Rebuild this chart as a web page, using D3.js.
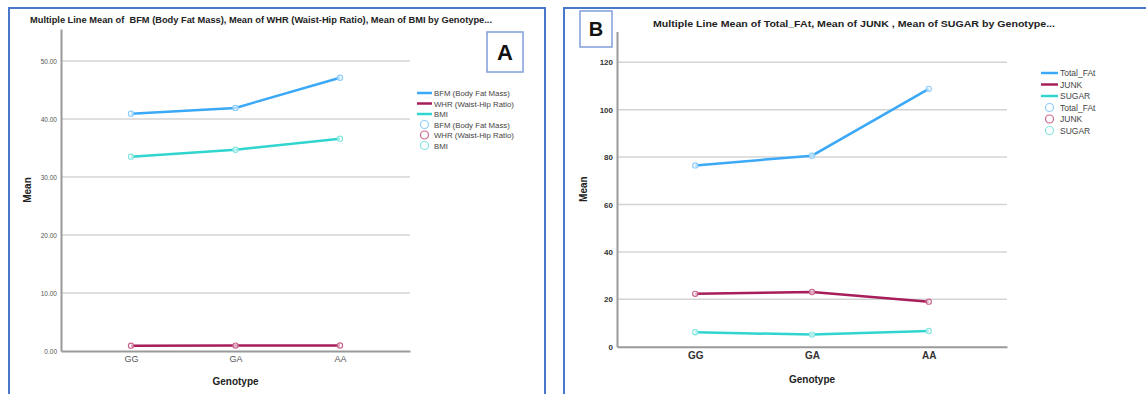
<!DOCTYPE html>
<html>
<head>
<meta charset="utf-8">
<script src="https://cdn.jsdelivr.net/npm/d3@7"></script>
<style>
  html, body { margin: 0; padding: 0; background: #fff; }
  svg { display: block; font-family: "Liberation Sans", Arial, sans-serif; }
</style>
</head>
<body>
<svg id="chart" width="1146" height="394"></svg>
<script>
// categories
const genotypes = ["GG", "GA", "AA"];

// panel A series
const seriesA = ["BFM (Body Fat Mass)", "WHR (Waist-Hip Ratio)", "BMI"];
const bfm = [40.9, 41.9, 47.1];
const whr = [0.92, 0.93, 0.95];
const bmi = [33.5, 34.7, 36.6];
const ticksA = [0, 10, 20, 30, 40, 50];

// panel B series
const seriesB = ["Total_FAt", "JUNK", "SUGAR"];
const totalFat = [76.5, 80.6, 108.8];
const junk = [22.3, 23.1, 19.0];
const sugar = [6.1, 5.1, 6.6];
const ticksB = [0, 20, 40, 60, 80, 100, 120];

const lineColors = ["#3ba9f7", "#a61e5a", "#30d5cf"];
const dotColors = ["#8fcdfb", "#c9668f", "#86e6e2"];

const svg = d3.select("#chart");

function drawPanel(cfg) {
    const g = svg.append("g");

    // frame
    g.append("rect")
        .attr("x", cfg.frame[0]).attr("y", cfg.frame[1])
        .attr("width", cfg.frame[2]).attr("height", cfg.frame[3])
        .attr("fill", "none").attr("stroke", "#4a78c8").attr("stroke-width", 2);

    // title
    g.append("text")
        .attr("x", cfg.titleX).attr("y", cfg.titleY)
        .attr("font-size", cfg.titleSize).attr("font-weight", "bold").attr("fill", "#222")
        .attr("textLength", cfg.titleLen).attr("lengthAdjust", "spacingAndGlyphs")
        .style("white-space", "pre")
        .text(cfg.title);

    // letter box
    g.append("rect")
        .attr("x", cfg.box[0]).attr("y", cfg.box[1])
        .attr("width", cfg.box[2]).attr("height", cfg.box[3])
        .attr("fill", "#fff").attr("stroke", "#7f9fd8").attr("stroke-width", 1.5);
    g.append("text")
        .attr("x", cfg.box[0] + cfg.box[2] / 2).attr("y", cfg.box[1] + cfg.box[3] / 2 + cfg.letterSize * 0.36)
        .attr("text-anchor", "middle")
        .attr("font-size", cfg.letterSize).attr("font-weight", "bold").attr("fill", "#111")
        .text(cfg.letter);

    const x = d3.scalePoint().domain(genotypes).range([cfg.left, cfg.right]).padding(0.67);
    const y = d3.scaleLinear().domain([0, cfg.yMax]).range([cfg.bottom, cfg.top]);

    // gridlines
    g.append("g").selectAll("line").data(cfg.ticks.filter(t => t > 0)).join("line")
        .attr("x1", cfg.left).attr("x2", cfg.right)
        .attr("y1", d => y(d)).attr("y2", d => y(d))
        .attr("stroke", "#d4d4d4").attr("stroke-width", 1.5);

    // y axis
    const yAxis = g.append("g")
        .attr("transform", `translate(${cfg.left},0)`)
        .call(d3.axisLeft(y).tickValues(cfg.ticks).tickSize(0).tickPadding(4).tickFormat(cfg.tickFmt));
    yAxis.select(".domain").attr("stroke", "#9a9a9a").attr("stroke-width", 2);
    yAxis.selectAll("text")
        .attr("font-size", cfg.yTickSize).attr("font-weight", cfg.tickWeight).attr("fill", cfg.tickColor)
        .style("font-family", "'Liberation Sans', Arial, sans-serif");

    // x axis
    const xAxis = g.append("g")
        .attr("transform", `translate(0,${cfg.bottom})`)
        .call(d3.axisBottom(x).tickSize(0).tickPadding(5));
    xAxis.select(".domain").attr("stroke", "#9a9a9a").attr("stroke-width", 2);
    xAxis.selectAll("text")
        .attr("font-size", cfg.xTickSize).attr("font-weight", cfg.tickWeight).attr("fill", cfg.tickColor)
        .style("font-family", "'Liberation Sans', Arial, sans-serif");

    // axis titles
    g.append("text")
        .attr("x", (cfg.left + cfg.right) / 2).attr("y", cfg.xTitleY)
        .attr("text-anchor", "middle").attr("font-size", 10).attr("font-weight", "bold").attr("fill", "#222")
        .text("Genotype");
    g.append("text")
        .attr("transform", `translate(${cfg.yTitleX},${(cfg.top + cfg.bottom) / 2}) rotate(-90)`)
        .attr("text-anchor", "middle").attr("font-size", 10).attr("font-weight", "bold").attr("fill", "#222")
        .text("Mean");

    // lines and markers
    const line = d3.line().x((d, i) => x(genotypes[i])).y(d => y(d));
    cfg.data.forEach((vals, k) => {
        g.append("path")
            .attr("d", line(vals))
            .attr("fill", "none").attr("stroke", lineColors[k]).attr("stroke-width", 2.5);
        g.append("g").selectAll("circle").data(vals).join("circle")
            .attr("cx", (d, i) => x(genotypes[i])).attr("cy", d => y(d)).attr("r", 2.6)
            .attr("fill", "#fff").attr("fill-opacity", 0.6)
            .attr("stroke", dotColors[k]).attr("stroke-width", 1.2);
    });

    // legend
    const lg = g.append("g").attr("transform", `translate(${cfg.legendX},${cfg.legendY})`);
    const step = cfg.legendStep;
    cfg.names.forEach((name, k) => {
        lg.append("line")
            .attr("x1", 0).attr("x2", cfg.legendLineW)
            .attr("y1", k * step).attr("y2", k * step)
            .attr("stroke", lineColors[k]).attr("stroke-width", 2.5);
        lg.append("text")
            .attr("x", cfg.legendLineW + 2).attr("y", k * step + 3)
            .attr("font-size", cfg.legendSize).attr("fill", "#444")
            .text(name);
    });
    cfg.names.forEach((name, k) => {
        const yy = (k + 3) * step;
        lg.append("circle")
            .attr("cx", cfg.legendLineW / 2).attr("cy", yy).attr("r", 4)
            .attr("fill", "none").attr("stroke", dotColors[k]).attr("stroke-width", 1.2);
        lg.append("text")
            .attr("x", cfg.legendLineW + 2).attr("y", yy + 3)
            .attr("font-size", cfg.legendSize).attr("fill", "#444")
            .text(name);
    });
}

drawPanel({
    frame: [9, 8, 536, 400],
    title: "Multiple Line Mean of  BFM (Body Fat Mass), Mean of WHR (Waist-Hip Ratio), Mean of BMI by Genotype...",
    titleX: 30, titleY: 23, titleSize: 9, titleLen: 462,
    box: [487, 32, 36, 40], letter: "A", letterSize: 22,
    left: 61, right: 410, top: 29, bottom: 351, yMax: 55.5,
    ticks: ticksA, tickFmt: d3.format(".2f"),
    yTickSize: 6.5, xTickSize: 9, tickWeight: "normal", tickColor: "#555",
    xTitleY: 385, yTitleX: 31,
    data: [bfm, whr, bmi], names: seriesA,
    legendX: 417, legendY: 93, legendStep: 10.5, legendLineW: 15, legendSize: 7.8
});

drawPanel({
    frame: [564, 8, 600, 400],
    title: "Multiple Line Mean of Total_FAt, Mean of JUNK , Mean of SUGAR by Genotype...",
    titleX: 653, titleY: 27, titleSize: 9.5, titleLen: 402,
    box: [580, 11, 32, 36], letter: "B", letterSize: 20,
    left: 617, right: 1007, top: 31.5, bottom: 346.7, yMax: 133,
    ticks: ticksB, tickFmt: d3.format("d"),
    yTickSize: 8, xTickSize: 10, tickWeight: "bold", tickColor: "#333",
    xTitleY: 383, yTitleX: 587,
    data: [totalFat, junk, sugar], names: seriesB,
    legendX: 1041, legendY: 73, legendStep: 11.5, legendLineW: 17, legendSize: 8.5
});
</script>
</body>
</html>
